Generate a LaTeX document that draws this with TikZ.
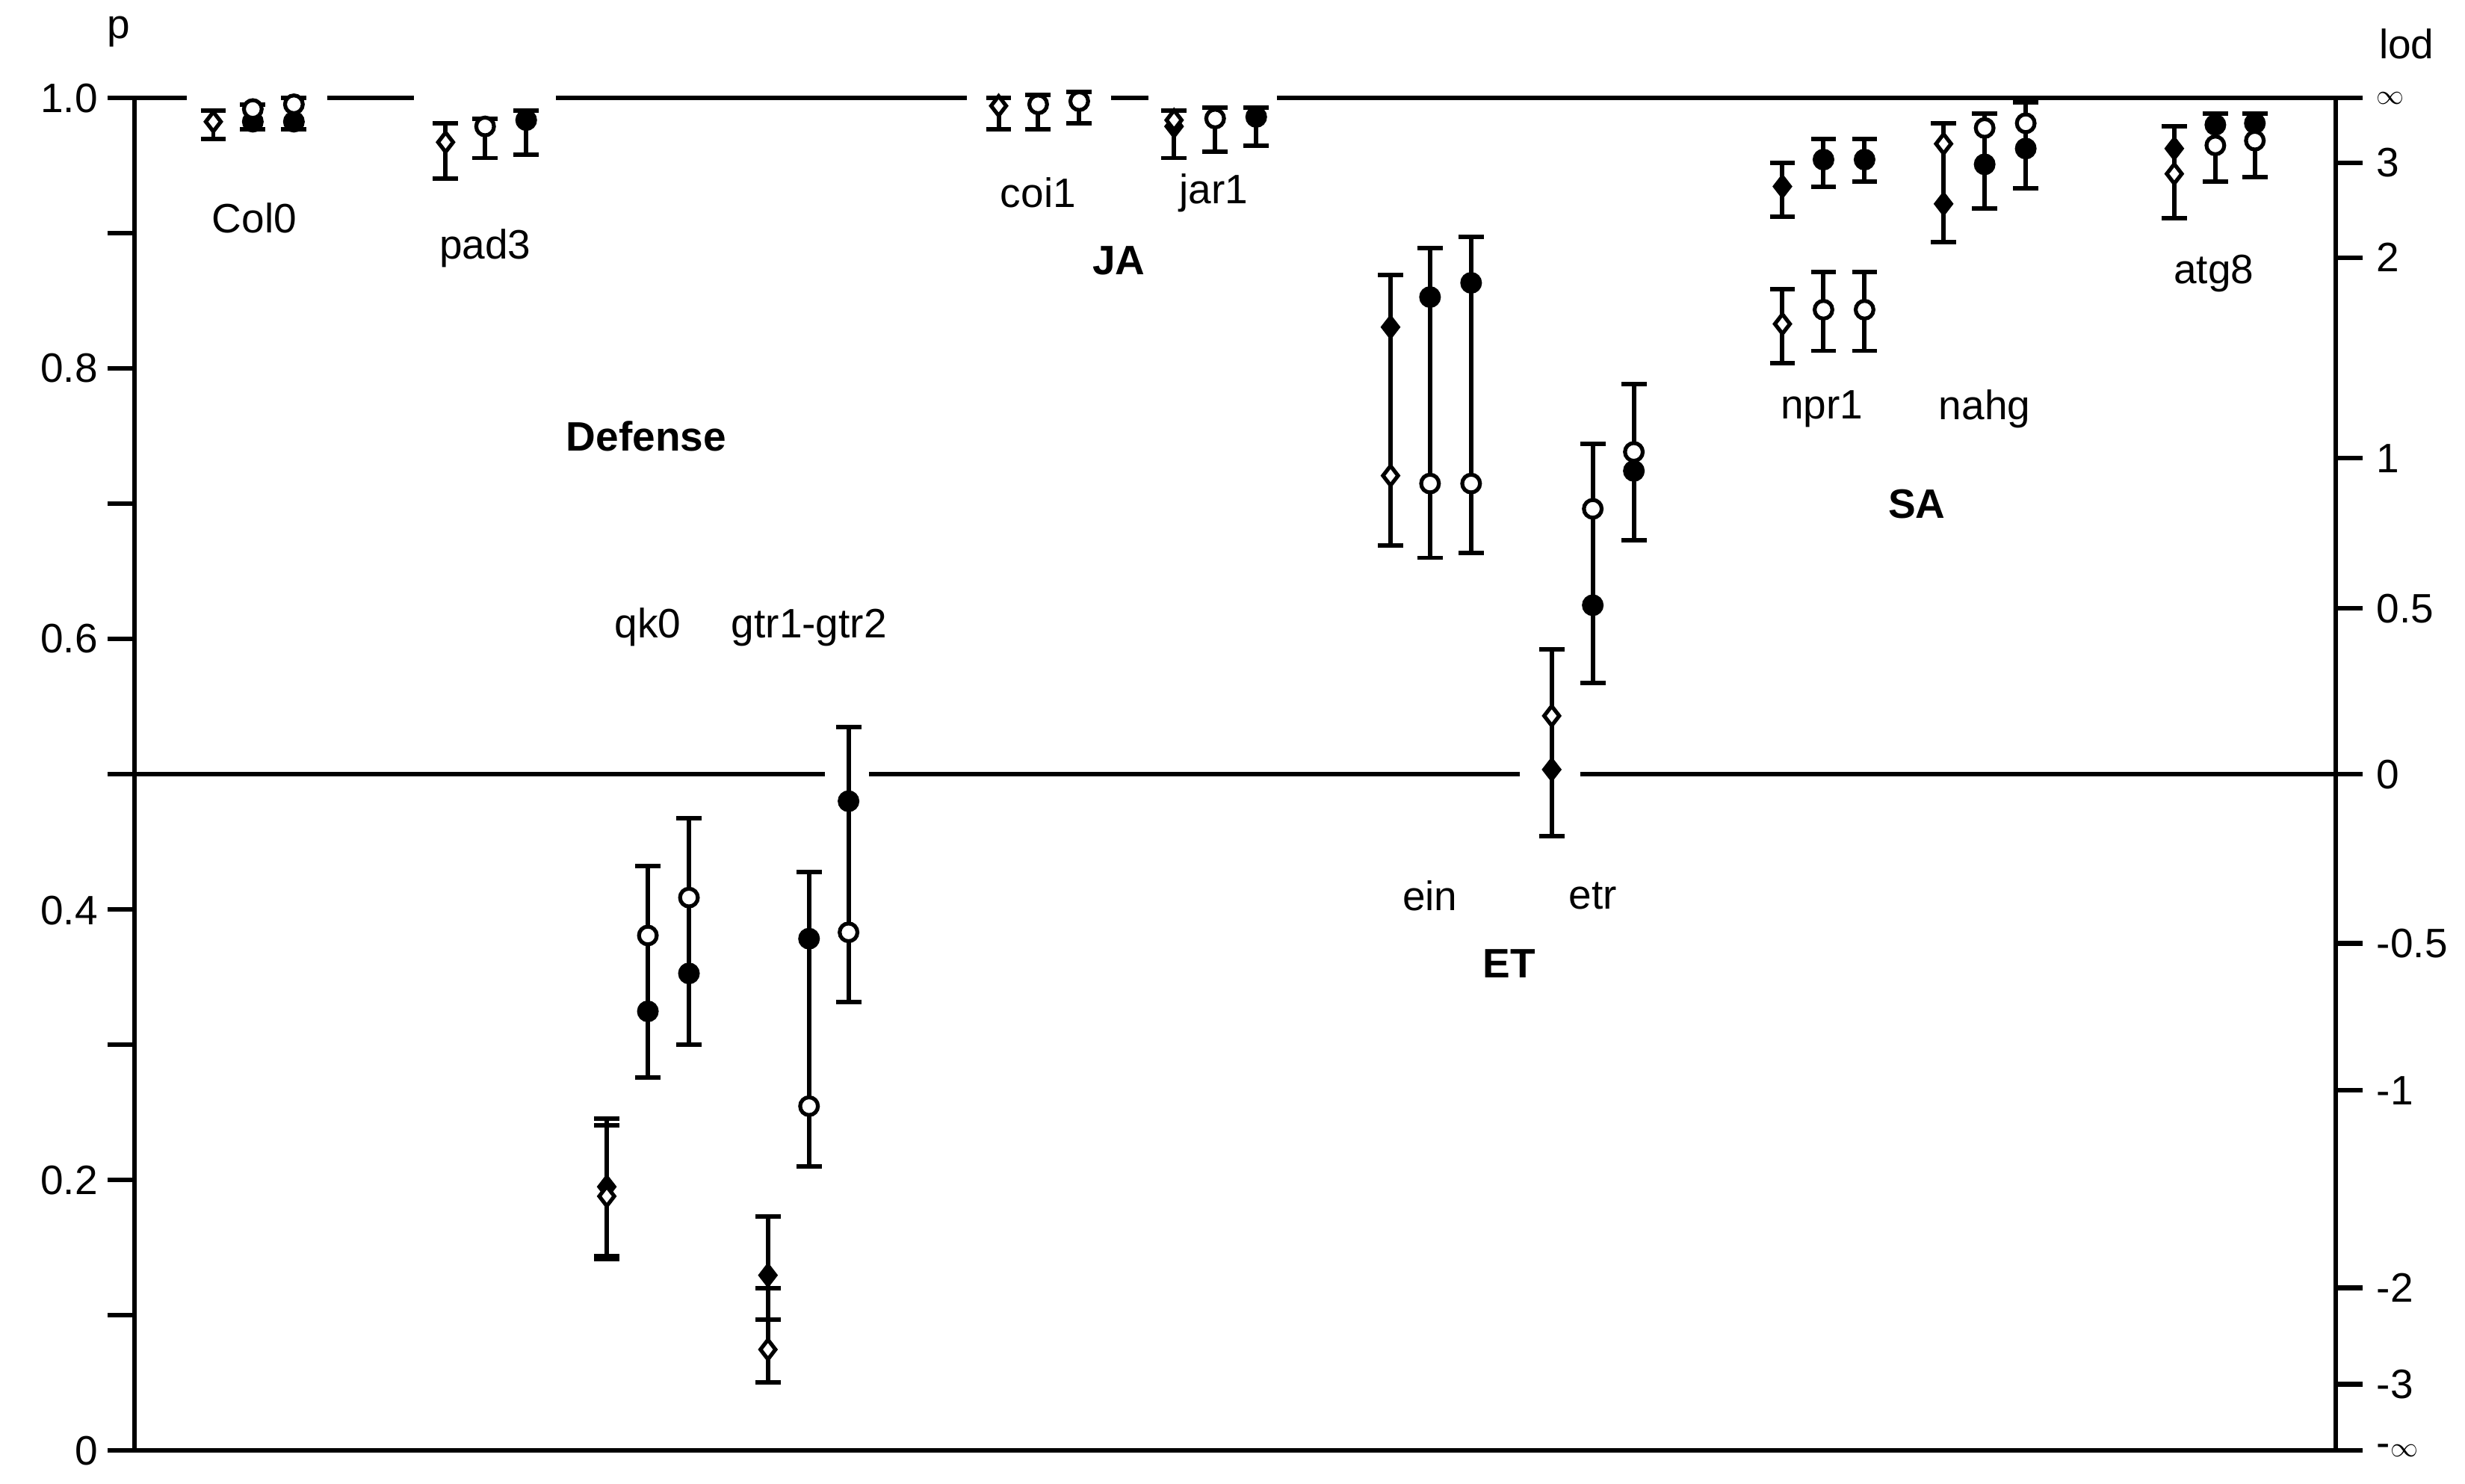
\documentclass[tikz,border=0pt]{standalone}
\usepackage{fontspec}
\setmainfont{Liberation Sans}
\usetikzlibrary{shapes.geometric}
\begin{document}
\begin{tikzpicture}[x=0.05cm,y=-0.05cm,
  ax/.style={line width=4.2pt},
  eb/.style={line width=4pt},
  lab/.style={font=\fontsize{37}{44}\selectfont,inner sep=0pt},
  blab/.style={lab,font=\fontsize{37}{44}\selectfont\bfseries},
  D/.style={diamond,draw,line width=3.5pt,fill=white,minimum width=15,minimum height=19,inner sep=0pt},
  dd/.style={D,fill=black},
  o/.style={circle,draw,line width=3.5pt,fill=white,minimum size=16,inner sep=0pt},
  c/.style={o,fill=black}]
\useasboundingbox (0,0) rectangle (1560,939);
\newcommand\ebar[3]{\draw[eb] (#1,#2)--(#1,#3); \draw[eb] (#1-8,#2)--(#1+8,#2); \draw[eb] (#1-8,#3)--(#1+8,#3);}
\newcommand\mk[4]{\node[#4] (#1) at (#2,#3) {};}
% axes
\draw[ax] (85,62)--(85,918) (68,918)--(1495,918);
\draw[ax] (1478,62)--(1478,918);
\draw[ax] (68,62)--(118,62) (207,62)--(262,62) (352,62)--(612,62) (703,62)--(727,62) (808,62)--(1495,62);
\draw[ax] (68,490)--(522,490) (550,490)--(962,490) (1000,490)--(1495,490);
\foreach \p in {0.1,0.2,...,0.95} \draw[ax] (68,918-856*\p)--(85,918-856*\p);
\foreach \t/\l in {1.0/0.8,0.8/0.6,0.6/0.4} {}
\node[lab,anchor=east] (l10) at (62,62) {1.0};
\node[lab,anchor=east] (l08) at (62,233) {0.8};
\node[lab,anchor=east] (l06) at (62,404) {0.6};
\node[lab,anchor=east] (l04) at (62,576) {0.4};
\node[lab,anchor=east] (l02) at (62,747) {0.2};
\node[lab,anchor=east] (l00) at (62,918) {0};
\node[lab] (p) at (75,20) {p};
\node[lab] (lod) at (1523,28) {lod};
\foreach \y/\l [count=\i] in {62/$\infty$,103/3,163/2,290/1,385/0.5,490/0,597/-0.5,690/-1,815/-2,876/-3,918/-$\infty$} {
  \draw[ax] (1478,\y)--(1495,\y);
  \node[lab,anchor=west] (r\i) at (1504,\y) {\l};}
% labels
\node[lab] (col0) at (161,138) {Col0};
\node[lab] (pad3) at (307,157) {pad3};
\node[lab] (coi1) at (657,122) {coi1};
\node[lab] (jar1) at (768,122) {jar1};
\node[blab] (JA) at (708,165) {JA};
\node[blab] (def) at (409,276) {Defense};
\node[lab] (qk0) at (410,397) {qk0};
\node[lab] (gtr) at (512,397) {gtr1-gtr2};
\node[lab] (ein) at (905,567) {ein};
\node[lab] (etr) at (1008,567) {etr};
\node[blab] (ET) at (955,610) {ET};
\node[lab] (npr1) at (1153,259) {npr1};
\node[lab] (nahg) at (1256,259) {nahg};
\node[blab] (SA) at (1213,319) {SA};
\node[lab] (atg8) at (1401,173) {atg8};
% Col0
\ebar{135}{70}{88}\ebar{160}{66}{82}\ebar{186}{62}{82}
\mk{a1}{160}{77}{c}\mk{a2}{186}{77}{c}
\mk{a3}{135}{77}{D}\mk{a4}{160}{69}{o}\mk{a5}{186}{66}{o}
% pad3
\ebar{282}{78}{113}\ebar{307}{75}{100}\ebar{333}{70}{98}
\mk{b1}{282}{90}{D}\mk{b2}{307}{80}{o}\mk{b3}{333}{76}{c}
% coi1
\ebar{632}{62}{82}\ebar{657}{60}{82}\ebar{683}{58}{78}
\mk{c1}{632}{67}{D}\mk{c2}{657}{66}{o}\mk{c3}{683}{64}{o}
% jar1
\ebar{743}{70}{100}\ebar{769}{68}{96}\ebar{795}{68}{92}
\mk{d0}{743}{80}{dd}\mk{d1}{743}{76}{D}\mk{d2}{769}{75}{o}\mk{d3}{795}{74}{c}
% qk0
\ebar{384}{708}{795}\ebar{384}{712}{797}
\mk{e1}{384}{751}{dd}\mk{e2}{384}{757}{D}
\ebar{410}{548}{682}\mk{e3}{410}{640}{c}\mk{e4}{410}{592}{o}
\ebar{436}{518}{661}\mk{e5}{436}{616}{c}\mk{e6}{436}{568}{o}
% gtr
\ebar{486}{770}{835}\ebar{486}{815}{875}
\mk{f1}{486}{807}{dd}\mk{f2}{486}{854}{D}
\ebar{512}{552}{738}\mk{f3}{512}{594}{c}\mk{f4}{512}{700}{o}
\ebar{537}{460}{634}\mk{f5}{537}{507}{c}\mk{f6}{537}{590}{o}
% ein
\ebar{880}{174}{345}\mk{g1}{880}{207}{dd}\mk{g2}{880}{301}{D}
\ebar{905}{157}{353}\mk{g3}{905}{188}{c}\mk{g4}{905}{306}{o}
\ebar{931}{150}{350}\mk{g5}{931}{179}{c}\mk{g6}{931}{306}{o}
% etr
\ebar{982}{411}{529}\mk{h1}{982}{487}{dd}\mk{h2}{982}{453}{D}
\ebar{1008}{281}{432}\mk{h3}{1008}{383}{c}\mk{h4}{1008}{322}{o}
\ebar{1034}{243}{342}\mk{h5}{1034}{298}{c}\mk{h6}{1034}{286}{o}
% npr1
\ebar{1128}{103}{137}\ebar{1128}{183}{230}\mk{i1}{1128}{118}{dd}\mk{i2}{1128}{205}{D}
\ebar{1154}{88}{118}\ebar{1154}{172}{222}\mk{i3}{1154}{101}{c}\mk{i4}{1154}{196}{o}
\ebar{1180}{88}{115}\ebar{1180}{172}{222}\mk{i5}{1180}{101}{c}\mk{i6}{1180}{196}{o}
% nahg
\ebar{1230}{78}{153}\mk{j1}{1230}{129}{dd}\mk{j2}{1230}{91}{D}
\ebar{1256}{72}{132}\mk{j3}{1256}{104}{c}\mk{j4}{1256}{81}{o}
\ebar{1282}{65}{119}\mk{j5}{1282}{94}{c}\mk{j6}{1282}{78}{o}
% atg8
\ebar{1376}{80}{138}\mk{k1}{1376}{94}{dd}\mk{k2}{1376}{110}{D}
\ebar{1402}{72}{115}\mk{k3}{1402}{79}{c}\mk{k4}{1402}{92}{o}
\ebar{1427}{72}{112}\mk{k5}{1427}{78}{c}\mk{k6}{1427}{89}{o}
\end{tikzpicture}
\end{document}
